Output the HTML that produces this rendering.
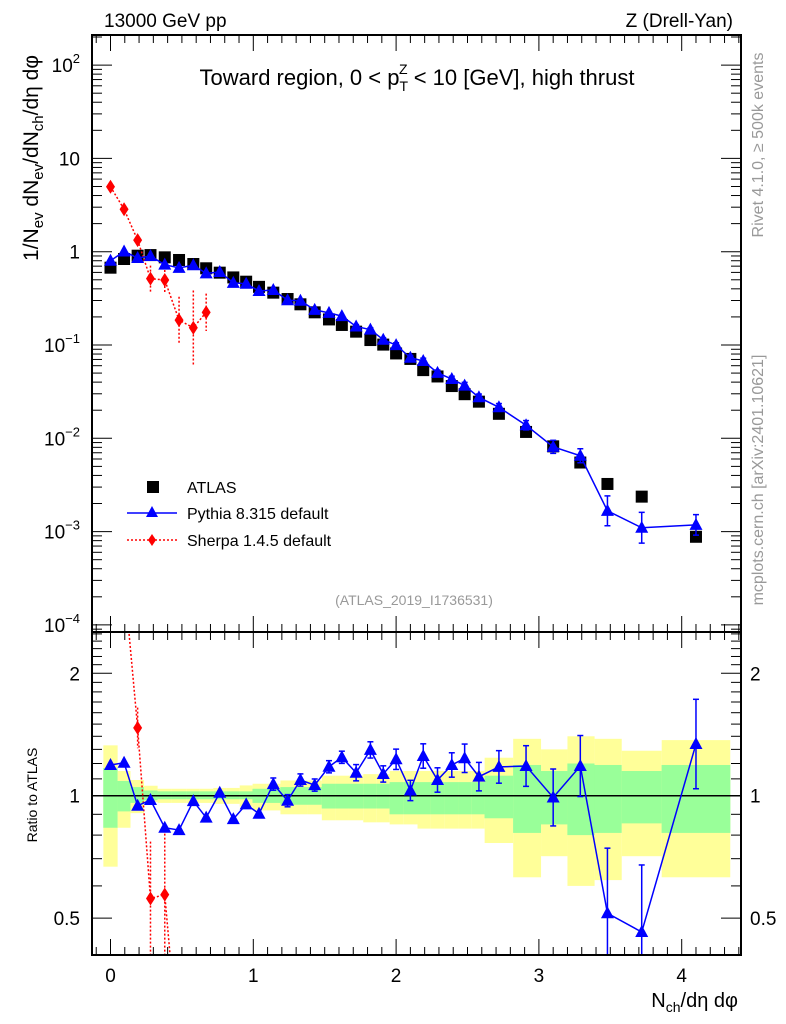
<!DOCTYPE html>
<html><head><meta charset="utf-8">
<style>
html,body{margin:0;padding:0;background:#fff;overflow:hidden;width:786px;height:1024px;}
svg{display:block;font-family:"Liberation Sans",sans-serif;overflow:hidden;}
</style></head>
<body>
<svg id="c" width="786" height="1024" viewBox="0 0 786 1024" xmlns="http://www.w3.org/2000/svg">
<text x="104" y="27" font-size="19">13000 GeV pp</text>
<text x="733" y="27" font-size="19" text-anchor="end">Z (Drell-Yan)</text>
<text x="417" y="85" font-size="22" text-anchor="middle">Toward region, 0 &lt; p<tspan font-size="14" dy="6">T</tspan><tspan font-size="14" dx="-9" dy="-17">Z</tspan><tspan dy="11"> &lt; 10 [GeV], high thrust</tspan></text>
<text x="414" y="605" font-size="14" fill="#999" text-anchor="middle">(ATLAS_2019_I1736531)</text>
<text transform="translate(763,145) rotate(-90)" font-size="16" fill="#999" text-anchor="middle">Rivet 4.1.0, ≥ 500k events</text>
<text transform="translate(763,480) rotate(-90)" font-size="16" fill="#999" text-anchor="middle">mcplots.cern.ch [arXiv:2401.10621]</text>
<text transform="translate(38,158) rotate(-90)" font-size="21" text-anchor="middle">1/N<tspan font-size="15" dy="5">ev</tspan><tspan dy="-5"> dN</tspan><tspan font-size="15" dy="5">ev</tspan><tspan dy="-5">/dN</tspan><tspan font-size="15" dy="5">ch</tspan><tspan dy="-5">/dη dφ</tspan></text>
<text transform="translate(37,795) rotate(-90)" font-size="14" text-anchor="middle">Ratio to ATLAS</text>
<text x="738" y="1007" font-size="20" text-anchor="end">N<tspan font-size="14" dy="5">ch</tspan><tspan dy="-5">/dη dφ</tspan></text>
<g id="g"></g>
<g>
<rect x="147" y="481" width="12" height="12" fill="#000"/>
<text x="187" y="493" font-size="16">ATLAS</text>
<line x1="127" y1="513" x2="177" y2="513" stroke="#00f" stroke-width="1.5"/>
<polygon points="152,506 158,517 146,517" fill="#00f"/>
<text x="187" y="519" font-size="16">Pythia 8.315 default</text>
<line x1="127" y1="540" x2="177" y2="540" stroke="#f00" stroke-width="1.5" stroke-dasharray="2,2"/>
<polygon points="152,534 156,540 152,546 148,540" fill="#f00"/>
<text x="187" y="546" font-size="16">Sherpa 1.4.5 default</text>
</g>
</svg>
<script>
const xs=[0,0.095,0.19,0.28,0.38,0.48,0.58,0.67,0.765,0.86,0.95,1.04,1.14,1.24,1.33,1.43,1.53,1.62,1.72,1.82,1.91,2.0,2.1,2.19,2.29,2.39,2.48,2.58,2.72,2.91,3.10,3.29,3.48,3.72,4.10];
const atlas=[0.674,0.835,0.906,0.92,0.87,0.815,0.738,0.664,0.596,0.53,0.477,0.42,0.364,0.311,0.273,0.224,0.188,0.164,0.139,0.113,0.101,0.0812,0.0709,0.0538,0.046,0.0363,0.0297,0.0247,0.0183,0.0117,0.0082,0.0055,0.00324,0.00237,0.00088];
const pythia=[0.80,1.006,0.856,0.898,0.726,0.671,0.716,0.586,0.606,0.464,0.454,0.379,0.389,0.302,0.298,0.238,0.221,0.204,0.158,0.146,0.114,0.0998,0.073,0.0674,0.0503,0.0432,0.0367,0.0275,0.0215,0.0138,0.0081,0.0065,0.00167,0.0011,0.00118];
const pythiaRatio=[1.19,1.205,0.945,0.976,0.834,0.823,0.97,0.883,1.017,0.876,0.952,0.903,1.068,0.972,1.093,1.062,1.178,1.243,1.139,1.296,1.131,1.229,1.03,1.252,1.093,1.19,1.236,1.114,1.177,1.183,0.99,1.183,0.514,0.462,1.34];
const pythiaErrLog=[0.01,0.01,0.01,0.01,0.01,0.01,0.01,0.01,0.01,0.01,0.01,0.01,0.015,0.015,0.015,0.015,0.015,0.015,0.02,0.02,0.02,0.025,0.025,0.03,0.03,0.03,0.035,0.035,0.04,0.05,0.07,0.075,0.16,0.165,0.11];
const sherpaX=[0,0.095,0.19,0.28,0.38,0.48,0.58,0.67];
const sherpa=[4.97,2.85,1.33,0.514,0.497,0.185,0.153,0.224];
const sherpaErrLog=[0.03,0.04,0.05,0.14,0.15,0.25,0.4,0.2];
const sherpaRatioErrLog=[0.03,0.04,0.05,0.14,0.15,0,0,0];
const bandEdges=[-0.05,0.05,0.14,0.235,0.33,0.43,0.53,0.625,0.72,0.81,0.905,0.995,1.09,1.19,1.285,1.38,1.48,1.575,1.67,1.77,1.865,1.955,2.05,2.15,2.24,2.34,2.44,2.53,2.62,2.82,3.015,3.2,3.39,3.58,3.86,4.34];
const greenHi=[1.17,1.087,1.05,1.03,1.025,1.025,1.025,1.025,1.025,1.025,1.025,1.04,1.04,1.05,1.05,1.05,1.07,1.07,1.07,1.07,1.07,1.08,1.08,1.08,1.08,1.08,1.08,1.08,1.12,1.19,1.15,1.20,1.19,1.15,1.19];
const greenLo=[0.834,0.915,0.96,0.975,0.98,0.98,0.98,0.98,0.98,0.98,0.98,0.96,0.96,0.95,0.95,0.95,0.93,0.93,0.93,0.93,0.93,0.90,0.90,0.90,0.90,0.90,0.90,0.90,0.88,0.81,0.85,0.80,0.81,0.855,0.81];
const yellowHi=[1.33,1.15,1.093,1.058,1.04,1.04,1.04,1.04,1.045,1.045,1.06,1.07,1.07,1.09,1.09,1.09,1.12,1.12,1.12,1.13,1.13,1.15,1.15,1.15,1.15,1.15,1.15,1.15,1.24,1.38,1.30,1.40,1.38,1.29,1.37];
const yellowLo=[0.669,0.834,0.906,0.965,0.96,0.96,0.96,0.96,0.955,0.955,0.94,0.92,0.92,0.9,0.9,0.9,0.87,0.87,0.87,0.86,0.86,0.85,0.85,0.83,0.83,0.83,0.83,0.83,0.765,0.63,0.71,0.60,0.62,0.71,0.63];
const xTicks=["0","1","2","3","4"];
const yMainTicks=[2,1,0,-1,-2,-3,-4];
const ratioTicks=[2,1,0.5];

const NS="http://www.w3.org/2000/svg";
const g=document.getElementById('g');
const L=92,R=741,T1=35,B1=632,B2=955;
const X=v=>110.5+142.8*v;
const Y=v=>251.7-93.3*Math.log10(v);
const YR=v=>795.7-406.6*Math.log10(v);
function el(tag,attrs,parent){const e=document.createElementNS(NS,tag);for(const k in attrs)e.setAttribute(k,attrs[k]);(parent||g).appendChild(e);return e;}
const defs=el('defs',{});
const c1=el('clipPath',{id:'cm'},defs);el('rect',{x:L,y:T1,width:R-L,height:B1-T1},c1);
const c2=el('clipPath',{id:'cr'},defs);el('rect',{x:L,y:B1,width:R-L,height:B2-B1},c2);
const gm=el('g',{'clip-path':'url(#cm)'});


const gr=el('g',{'clip-path':'url(#cr)'});


for(let i=0;i<greenHi.length;i++){
  const x0=X(bandEdges[i]),x1=X(bandEdges[i+1]);
  const y=el('rect',{x:x0,y:YR(yellowHi[i]),width:x1-x0,height:YR(yellowLo[i])-YR(yellowHi[i]),fill:'#ffff99'},gr);
  
  
  const gg=el('rect',{x:x0-0.1,y:YR(greenHi[i]),width:x1-x0+0.2,height:YR(greenLo[i])-YR(greenHi[i]),fill:'#99ff99'},gr);
  
  
}
const one=el('line',{x1:L,x2:R,y1:YR(1),y2:YR(1),stroke:'#000','stroke-width':1.5},gr);


for(const [y0,y1,nm] of [[T1,B1,'main-frame'],[B1,B2,'ratio-frame']]){
  const f=el('rect',{x:L,y:y0,width:R-L,height:y1-y0,fill:'none',stroke:'#000','stroke-width':2});
  
  
}
for(let k=-1;k<=44;k++){const v=k/10;const x=X(v);if(x<L||x>R)continue;const len=(k%10==0)?16:8;
  for(const [y0,d] of [[T1,1],[B1,-1],[B1,1],[B2,-1]]){el('line',{x1:x,x2:x,y1:y0,y2:y0+d*len,stroke:'#000','stroke-width':1});}
}
xTicks.forEach((t,i)=>{const tx=el('text',{x:X(i),y:982,'font-size':19,'text-anchor':'middle'});tx.textContent=t;
  
  });
for(let e=-5;e<=2;e++){for(let m=1;m<10;m++){const v=m*Math.pow(10,e);const y=Y(v);if(y<T1||y>B1)continue;const len=m==1?20:10;
  el('line',{x1:L,x2:L+len,y1:y,y2:y,stroke:'#000'});el('line',{x1:R,x2:R-len,y1:y,y2:y,stroke:'#000'});}}
yMainTicks.forEach(e=>{const y=Y(Math.pow(10,e));const tx=el('text',{x:80,y:y+7,'font-size':19,'text-anchor':'end'});
  
  
  if(e==0)tx.textContent='1';else if(e==1)tx.textContent='10';else{tx.textContent='10';const s=document.createElementNS(NS,'tspan');s.setAttribute('font-size','13');s.setAttribute('dy','-9');s.textContent=String(e).replace('-','−');tx.appendChild(s);}});
const rt=[0.5,0.6,0.7,0.8,0.9,1,1.1,1.2,1.3,1.4,1.5,1.6,1.7,1.8,1.9,2,2.1,2.2,2.3,2.4,2.5];
rt.forEach(v=>{const y=YR(v);if(y<B1||y>B2)return;const len=(v==0.5||v==1||v==2)?20:10;
  el('line',{x1:L,x2:L+len,y1:y,y2:y,stroke:'#000'});el('line',{x1:R,x2:R-len,y1:y,y2:y,stroke:'#000'});});
ratioTicks.forEach(v=>{for(const [x,a] of [[80,'end'],[750,'start']]){const tx=el('text',{x:x,y:YR(v)+7,'font-size':19,'text-anchor':a});tx.textContent=String(v);
  
  }});
function tri(par,x,y,nm){const p=el('polygon',{points:`${x},${y-7} ${x+6.5},${y+5} ${x-6.5},${y+5}`,fill:'#00f'},par);
  
  }
function dia(par,x,y,nm){const p=el('polygon',{points:`${x},${y-7} ${x+4.5},${y} ${x},${y+7} ${x-4.5},${y}`,fill:'#f00'},par);
  
  }
function ebar(par,x,y0,y1,col,dash){const l=el('line',{x1:x,x2:x,y1:y0,y2:y1,stroke:col,'stroke-width':1.5},par);if(dash)l.setAttribute('stroke-dasharray','2,2');
  if(!dash){el('line',{x1:x-3,x2:x+3,y1:y0,y2:y0,stroke:col,'stroke-width':1.5},par);el('line',{x1:x-3,x2:x+3,y1:y1,y2:y1,stroke:col,'stroke-width':1.5},par);}}
atlas.forEach((v,i)=>{const r=el('rect',{x:X(xs[i])-6,y:Y(v)-6,width:12,height:12,fill:'#000'},gm);
  
  });
let sp=sherpaX.map((x,i)=>X(x)+','+Y(sherpa[i])).join(' ');
const sl=el('polyline',{points:sp,fill:'none',stroke:'#f00','stroke-width':1.5,'stroke-dasharray':'2,2'},gm);


sherpa.forEach((v,i)=>{const x=X(sherpaX[i]);ebar(gm,x,Y(v*Math.pow(10,sherpaErrLog[i])),Y(v/Math.pow(10,sherpaErrLog[i])),'#f00',true);dia(gm,x,Y(v),'sherpa-point');});
const pl=el('polyline',{points:xs.map((x,i)=>X(x)+','+Y(pythia[i])).join(' '),fill:'none',stroke:'#00f','stroke-width':1.5},gm);


pythia.forEach((v,i)=>{const x=X(xs[i]);const e=Math.pow(10,pythiaErrLog[i]);if(pythiaErrLog[i]>0.015)ebar(gm,x,Y(v*e),Y(v/e),'#00f');tri(gm,x,Y(v),'pythia-point');});
const sr=sherpaX.map((x,i)=>sherpa[i]/atlas[i]);
const srl=el('polyline',{points:sherpaX.map((x,i)=>X(x)+','+YR(sr[i])).join(' '),fill:'none',stroke:'#f00','stroke-width':1.5,'stroke-dasharray':'2,2'},gr);


sr.forEach((v,i)=>{const x=X(sherpaX[i]);const e=Math.pow(10,sherpaRatioErrLog[i]);if(sherpaRatioErrLog[i]>0)ebar(gr,x,YR(v*e),YR(v/e),'#f00',true);dia(gr,x,YR(v),'sherpa-ratio-point');});
const prl=el('polyline',{points:xs.map((x,i)=>X(x)+','+YR(pythiaRatio[i])).join(' '),fill:'none',stroke:'#00f','stroke-width':1.5},gr);


pythiaRatio.forEach((v,i)=>{const x=X(xs[i]);const e=Math.pow(10,pythiaErrLog[i]);if(pythiaErrLog[i]>0.01)ebar(gr,x,YR(v*e),YR(v/e),'#00f');tri(gr,x,YR(v),'pythia-ratio-point');});
</script>
</body></html>
